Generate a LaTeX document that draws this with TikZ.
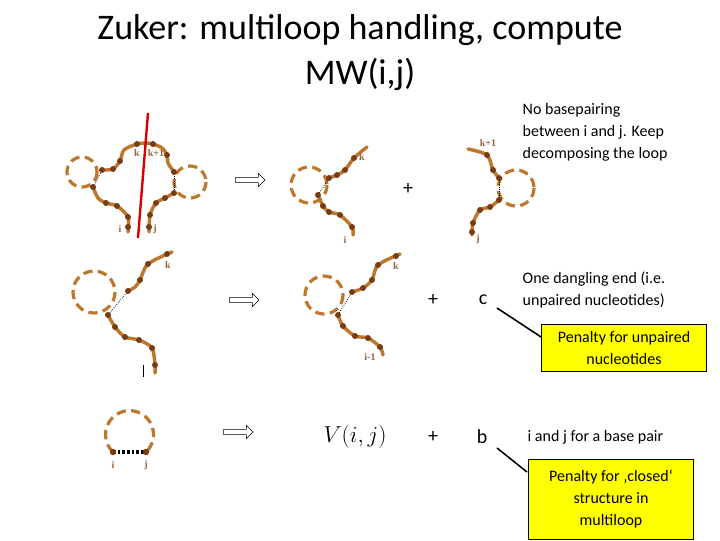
\documentclass[tikz,border=0pt]{standalone}
\usepackage{fontspec}
\setmainfont{Carlito}
\newfontfamily\lblfont{Liberation Serif}
\usetikzlibrary{arrows.meta,shapes.arrows}
\definecolor{brn}{RGB}{190,120,45}
\definecolor{dotc}{RGB}{120,60,20}
\definecolor{lab}{RGB}{150,100,60}
\definecolor{boxy}{RGB}{255,255,0}
\tikzset{
 strand/.style={brn,line width=2.6pt,line cap=round},
 loopc/.style={brn,line width=2.4pt,dash pattern=on 7pt off 4pt},
 pairl/.style={black,line width=0.6pt,densely dotted},
 lbl/.style={lab,font=\lblfont\fontsize{7.5}{8}\selectfont\bfseries},
 txt/.style={font=\fontsize{12}{16.5}\selectfont,align=left,anchor=west},
 pbox/.style={draw=black,fill=boxy,font=\fontsize{12}{16.5}\selectfont,align=center,inner sep=2pt},
 bigarrow/.style={single arrow,draw=black,fill=white,minimum height=22pt,single arrow head extend=2.5pt,inner sep=1.5pt,minimum width=10pt},
 sym/.style={font=\fontsize{15}{16}\selectfont}
}
\newcommand{\beads}[1]{\foreach \p in {#1} \fill[dotc] \p circle (3);}
\begin{document}
\begin{tikzpicture}[x=0.75pt,y=-0.75pt]
\useasboundingbox (0,0) rectangle (720,540);
% title
\node[font=\fontsize{27}{30}\selectfont] (t1) at (360,30) {Zuker: multiloop handling, compute};
\node[font=\fontsize{27}{30}\selectfont] (t2) at (360,74) {MW(i,j)};
% ---- diagram 1
\draw[loopc] (82,172) circle (15);
\draw[loopc] (190,182) circle (16);
\draw[strand] plot[smooth] coordinates {(128,232)(128,217)(117,206)(106,203)(98,198)(93,187)};
\draw[strand] plot[smooth] coordinates {(102,170)(113,169)(120,161)(124,150)(137,144)(147,143)(153,144)(162,148)(167,155)(168,163)(174,172)};
\draw[strand] plot[smooth] coordinates {(174,193)(165,198)(156,203)(150,215)(149,232)};
\draw[pairl] (93,187)--(102,170); \draw[pairl] (174,172)--(174,193);
\beads{(128,217),(117,206),(106,203),(93,187),(102,170),(113,169),(120,161),(137,144),(153,144),(167,155),(174,172),(174,193),(165,198),(156,203),(150,215),(149,227),(128,227)}
\draw[red!85!black,line width=1.8pt] (148,113)--(138,238);
\node[lbl] (i1) at (120,229) {i}; \node[lbl] (j1) at (155,229) {j};
\node[lbl] (k1) at (137,153) {k}; \node[lbl] (kk1) at (156,153) {k+1};
\node[bigarrow] (a1) at (249,180) {};
\node[sym] (p1) at (408,189) {+};
% ---- diagram 2
\draw[loopc] (309,185) circle (18);
\draw[strand] plot[smooth] coordinates {(367,147)(354,158)(345,170)(337,175)(329,178)};
\draw[strand] plot[smooth] coordinates {(318,195)(323,206)(329,212)(340,215)(352,227)(353,235)};
\draw[pairl] (329,178)--(318,195);
\beads{(354,158),(345,170),(337,175),(329,178),(318,195),(323,206),(329,212),(340,215),(352,227)}
\node[lbl] (k2) at (362,157) {k}; \node[lbl] (i2) at (345,240) {i};
% ---- diagram 3
\draw[loopc] (516,188) circle (18);
\draw[strand] plot[smooth] coordinates {(468,149)(487,155)(493,170)(499,178)};
\draw[strand] plot[smooth] coordinates {(499,200)(490,207)(480,210)(473,223)(472,235)};
\draw[pairl] (499,178)--(499,200);
\beads{(487,155),(493,170),(499,178),(499,200),(490,207),(480,210),(473,223),(472,232)}
\node[lbl] (kk3) at (488,143) {k+1}; \node[lbl] (j3) at (478,239) {j};
% ---- row 2 left
\draw[loopc] (94,292) circle (21);
\draw[strand] plot[smooth] coordinates {(172,252)(148,264)(140,280)(135,287)(128,291)};
\draw[strand] plot[smooth] coordinates {(108,315)(115,327)(125,337)(139,340)(152,348)(155,365)(155,373)};
\draw[pairl] (128,291)--(108,315);
\beads{(167,254),(148,264),(140,280),(128,291),(108,315),(115,327),(125,337),(139,340),(152,348),(155,365)}
\node[lbl] (k4) at (168,265) {k};
\draw[black,line width=0.6pt] (143,365)--(143,377);
\node[bigarrow] (a2) at (243,300) {};
% ---- row 2 middle
\draw[loopc] (324,295) circle (19);
\draw[strand] plot[smooth] coordinates {(400,254)(378,265)(372,280)(363,288)(352,292)};
\draw[strand] plot[smooth] coordinates {(338,315)(343,326)(355,336)(368,338)(380,347)(383,355)};
\draw[pairl] (352,292)--(338,315);
\beads{(396,256),(378,265),(372,280),(363,288),(352,292),(338,315),(343,326),(355,336),(368,338),(380,347)}
\node[lbl] (k5) at (396,266) {k}; \node[lbl] (i5) at (370,357) {i-1};
\node[sym] (p2) at (433,300) {+};
\node[sym] (c) at (483,300) {c};
% ---- row 3
\draw[loopc] (113,452) arc (133.5:406.5:24);
\draw[black,line width=2.5pt,dash pattern=on 2pt off 1.5pt] (113,452)--(146,452);
\fill[dotc] (113,452) circle (3.2); \fill[dotc] (146,452) circle (3.2);
\node[lbl] (i6) at (113,465) {i}; \node[lbl] (j6) at (146,465) {j};
\node[bigarrow] (a3) at (237,432) {};
\node[font=\fontsize{16}{18}\selectfont] (v) at (355,437) {$V(i,j)$};
\node[sym] (p3) at (433,437) {+};
\node[sym] (b) at (482,437) {b};
% ---- texts
\node[txt] (n1) at (518,132) {No basepairing\\between i and j. Keep\\decomposing the loop};
\node[txt] (n2) at (518,290) {One dangling end (i.e.\\unpaired nucleotides)};
\node[pbox,minimum width=124pt,minimum height=35pt] (b1) at (624,348) {Penalty for unpaired\\nucleotides};
\node[txt] (n3) at (523,437) {i and j for a base pair};
\node[pbox,minimum width=124pt,minimum height=60pt] (b2) at (611,499) {Penalty for ‚closed‘\\structure in\\multiloop};
\draw[black,line width=1.2pt] (497,308)--(b1.west|-0,337);
\draw[black,line width=1.2pt] (497,448)--(527,472);
\end{tikzpicture}
\end{document}
